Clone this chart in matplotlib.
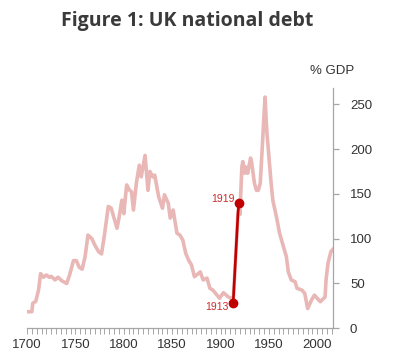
import matplotlib
matplotlib.use("Agg")
import matplotlib.pyplot as plt
from matplotlib.ticker import MultipleLocator

years = [1700, 1705, 1706, 1709, 1712, 1714, 1717, 1720, 1723, 1725, 1729, 1732, 1736, 1741,
         1744, 1748, 1751, 1754, 1757, 1760, 1763, 1767, 1770, 1774, 1777, 1780, 1784, 1787,
         1793, 1795, 1798, 1800, 1803, 1806, 1808, 1810, 1813, 1816, 1818, 1822, 1825, 1827,
         1830, 1832, 1836, 1840, 1842, 1846, 1848, 1851, 1855, 1858, 1861, 1864, 1867, 1870,
         1873, 1877, 1879, 1882, 1886, 1889, 1892, 1899, 1903, 1908, 1911, 1913, 1918, 1919,
         1920, 1922, 1923, 1925, 1926, 1928, 1931, 1932, 1935, 1937, 1939, 1941, 1943, 1945,
         1946, 1947, 1948, 1950, 1952, 1954, 1958, 1961, 1965, 1968, 1970, 1973, 1977, 1979,
         1984, 1987, 1990, 1994, 1997, 2003, 2008, 2009, 2011, 2014, 2016]
debt = [18.5, 18.5, 28, 30, 43, 61, 57, 59.5, 57, 58, 54, 57, 53, 50,
        59.5, 75.5, 75.5, 68, 66, 80, 104, 100, 93, 85.5, 83, 104, 136, 134,
        111.6, 123, 143, 128, 160, 154, 152.5, 132, 162, 182, 169, 193, 154, 175,
        169, 171, 147, 134, 149, 139.5, 123, 132, 106, 104, 98.5, 83.7, 76, 70.6,
        57.6, 61, 63, 54, 56, 44.6, 42.7, 33.5, 39.7, 35, 33.5, 28, 128, 140,
        127, 180, 186, 173, 180, 173, 190, 186, 162, 154, 154, 162, 200, 240,
        258, 235, 217, 191, 165, 143, 123, 106, 91, 80, 63, 54, 52, 44.6,
        42.7, 39, 22, 31.6, 37, 29.7, 35, 54, 72.5, 85.5, 88]

highlight_start, highlight_end = 1913, 1919
x_ticks = [1700, 1750, 1800, 1850, 1900, 1950, 2000]
y_ticks = [0, 50, 100, 150, 200, 250]

pink = "#e8b7b6"
red = "#c00000"
label_red = "#cc2a2a"
grey = "#a6a6a6"
text_col = "#333333"
tick_font = ["Liberation Sans Narrow", "Liberation Sans", "DejaVu Sans"]

fig = plt.figure(figsize=(3.96, 3.60), dpi=100)
ax = fig.add_axes([27/396, 1-328.3/360, (333.3-27)/396, (328.3-87.7)/360])

ax.plot(years, debt, color=pink, lw=2.6, solid_joinstyle="round", zorder=2)

hx = [y for y in years if highlight_start <= y <= highlight_end]
hy = [v for y, v in zip(years, debt) if highlight_start <= y <= highlight_end]
ax.plot(hx, hy, color=red, lw=1.9, zorder=3)
ax.plot([hx[0], hx[-1]], [hy[0], hy[-1]], 'o', color=red, ms=6, zorder=4)

ax.annotate(str(highlight_start), (hx[0], hy[0]), xytext=(-3, -3), textcoords="offset points",
            ha="right", va="center", color=label_red, fontsize=7.5, family=tick_font)
ax.annotate(str(highlight_end), (hx[-1], hy[-1]), xytext=(-3, 3), textcoords="offset points",
            ha="right", va="center", color=label_red, fontsize=7.5, family=tick_font)

ax.set_xlim(1700, 2016.5)
ax.set_ylim(0, 268.5)

for s in ["top", "left"]:
    ax.spines[s].set_visible(False)
for s in ["bottom", "right"]:
    ax.spines[s].set_color(grey)
    ax.spines[s].set_linewidth(0.9)

ax.yaxis.tick_right()
ax.set_yticks(y_ticks)
ax.set_xticks(x_ticks)
ax.xaxis.set_minor_locator(MultipleLocator(5))
ax.tick_params(axis="x", which="both", length=4, width=0.7, color=grey, pad=4,
               labelsize=9.5, labelcolor=text_col)
ax.tick_params(axis="y", length=4, width=0.9, color=grey, pad=8,
               labelsize=9.5, labelcolor=text_col)
for lab in ax.get_xticklabels() + ax.get_yticklabels():
    lab.set_family(tick_font)

fig.text(332.5/396, 1-71/360, "% GDP", ha="center", va="center", fontsize=9.5,
         color=text_col, family=tick_font)
fig.text(187/396, 1-21/360, "Figure 1: UK national debt", ha="center", va="center",
         fontsize=14, fontweight="bold", color="#3a3a3a", family=["Open Sans", "DejaVu Sans"])

fig.savefig("out.png", dpi=100)
